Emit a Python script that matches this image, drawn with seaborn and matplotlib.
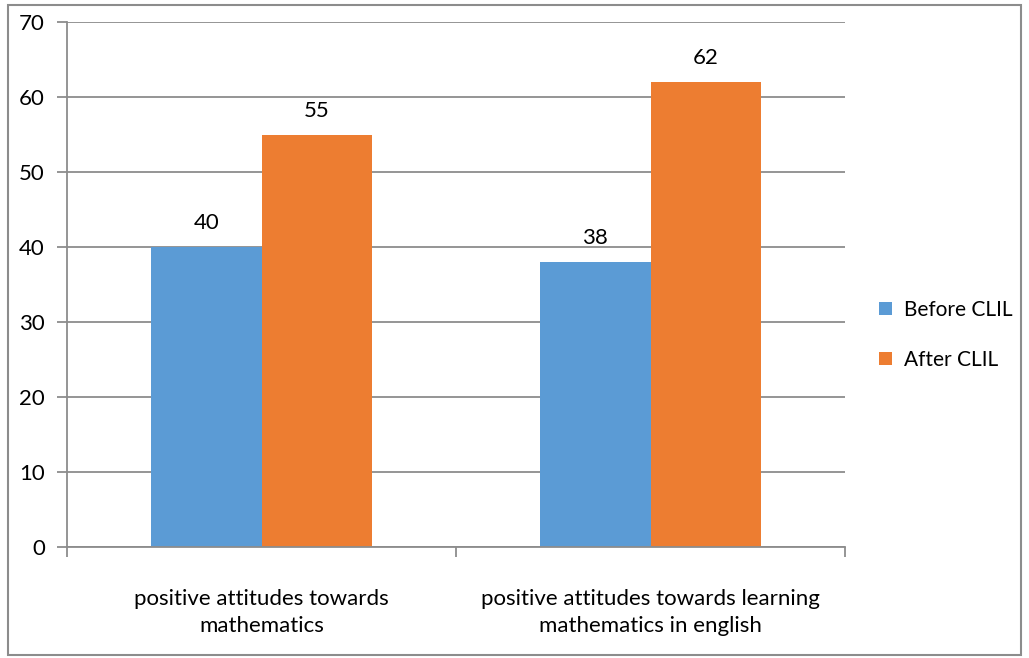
import matplotlib
matplotlib.use("Agg")
import matplotlib.pyplot as plt
import seaborn as sns
import pandas as pd
from matplotlib.patches import Rectangle

categories = ["positive attitudes towards\nmathematics",
              "positive attitudes towards learning\nmathematics in english"]
series = ["Before CLIL", "After CLIL"]
before_vals = [40, 38]
after_vals = [55, 62]
colors = ["#5B9BD5", "#ED7D31"]

df = pd.DataFrame({
    "category": categories * 2,
    "series": [series[0]] * 2 + [series[1]] * 2,
    "value": before_vals + after_vals,
})

sns.set_theme(style="white")
plt.rcParams["font.family"] = ["Lato", "DejaVu Sans"]

fig = plt.figure(figsize=(10.29, 6.58), dpi=100)
ax = fig.add_axes([67/1029, 1 - 547/658, (845-67)/1029, (547-22)/658])

sns.barplot(data=df, x="category", y="value", hue="series", palette=colors,
            width=0.568, saturation=1, ax=ax, legend=True, edgecolor="none")

for c in ax.containers:
    ax.bar_label(c, labels=[f"{v:g}" for v in c.datavalues], padding=10,
                 fontsize=16, color="#000000")

ax.set_ylim(0, 70)
ax.set_xlim(-0.5, 1.5)
ax.set_yticks(range(0, 71, 10))
ax.yaxis.grid(True, color="#8C8C8C", linewidth=1.3)
ax.set_axisbelow(True)
ax.set_xlabel("")
ax.set_ylabel("")
for s in ["top", "right"]:
    ax.spines[s].set_visible(False)
for s in ["left", "bottom"]:
    ax.spines[s].set_color("#8C8C8C")
    ax.spines[s].set_linewidth(1.3)
ax.tick_params(axis="y", which="major", left=True, length=7, width=1.3,
               color="#8C8C8C", labelsize=16, pad=9, labelcolor="#000000")
ax.tick_params(axis="x", which="major", bottom=False, labelsize=16, pad=24,
               labelcolor="#000000")
ax.set_xticks([-0.5, 0.5, 1.5], minor=True)
ax.tick_params(axis="x", which="minor", bottom=True, length=7, width=1.3,
               color="#8C8C8C")
for t in ax.get_xticklabels():
    t.set_linespacing(1.45)

leg = ax.legend(loc="center left", bbox_to_anchor=(879/1029, 1 - 335/658),
                bbox_transform=fig.transFigure, frameon=False, fontsize=15,
                handlelength=0.6, handleheight=0.6, handletextpad=0.6,
                labelspacing=1.45, borderpad=0, borderaxespad=0)
for t in leg.get_texts():
    t.set_color("#000000")

fig.patches.append(Rectangle((8/1029, 1 - 655/658), (1021-8)/1029, (655-5)/658,
                             transform=fig.transFigure, fill=False,
                             edgecolor="#8C8C8C", linewidth=1.5))

fig.savefig("out.png", dpi=100, facecolor="white")
